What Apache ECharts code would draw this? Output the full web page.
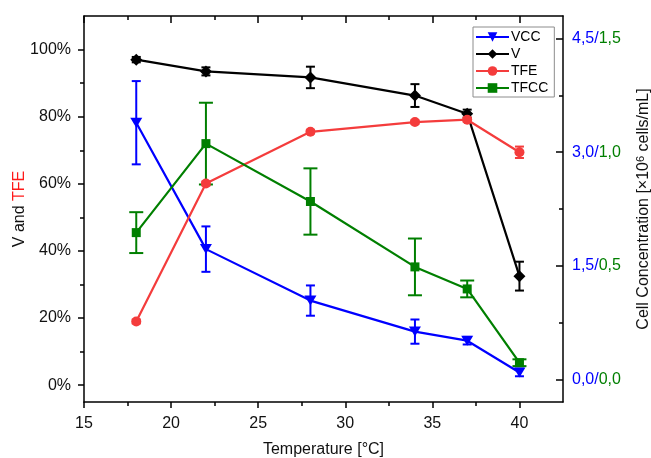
<!DOCTYPE html>
<html>
<head>
<meta charset="utf-8">
<script src="https://cdn.jsdelivr.net/npm/echarts@6/dist/echarts.min.js"></script>
<style>
  html, body { margin: 0; padding: 0; background: #fff; }
  #chart { width: 651px; height: 458px; }
</style>
</head>
<body>
<div id="chart"></div>
<script>
// Temperatures (°C)
const temps = [18, 22, 28, 34, 37, 40];

// V and TFE (%), left axis
const vValues   = [97.0, 93.5, 91.7, 86.3, 80.9, 32.5];
const vErrors   = [0.8, 1.2, 3.2, 3.4, 1.2, 4.3];
const tfeValues = [19.0, 60.1, 75.5, 78.4, 79.1, 69.4];
const tfeErrors = [0.6, 0.6, 0.5, 0.5, 0.6, 1.7];

// Cell concentrations (x10^6 cells/mL), right axis: VCC on 0–4.5, TFCC on 0–1.5
const vccValues  = [3.39, 1.72, 1.04, 0.63, 0.51, 0.09];
const vccErrors  = [0.55, 0.30, 0.20, 0.16, 0.05, 0.05];
const tfccValues = [0.646, 1.038, 0.783, 0.495, 0.398, 0.073];
const tfccErrors = [0.09, 0.18, 0.146, 0.125, 0.037, 0.015];

// Tick positions
const xMajorTicks = [15, 20, 25, 30, 35, 40];
const xMinorTicks = [17.5, 22.5, 27.5, 32.5, 37.5];
const leftMajorTicks = [0, 20, 40, 60, 80, 100];
const leftMinorTicks = [10, 30, 50, 70, 90];
const rightMajorTicks = [0, 1.5, 3, 4.5];
const rightMinorTicks = [0.75, 2.25, 3.75];

const FONT = 'Liberation Sans, Arial, sans-serif';
const C_VCC = '#0000ff', C_V = '#000000', C_TFE = '#f43c3c', C_TFCC = '#007f00';

const pairs = (vals) => temps.map((t, i) => [t, vals[i]]);
const ranges = (vals, errs) => temps.map((t, i) => [t, vals[i] - errs[i], vals[i] + errs[i]]);
const comma = (v) => v.toFixed(1).replace('.', ',');

function errorBars(color, capHalf) {
  return function (params, api) {
    const x = api.value(0);
    const lo = api.coord([x, api.value(1)]);
    const hi = api.coord([x, api.value(2)]);
    const st = { stroke: color, lineWidth: 2 };
    return {
      type: 'group',
      children: [
        { type: 'line', shape: { x1: lo[0], y1: lo[1], x2: hi[0], y2: hi[1] }, style: st },
        { type: 'line', shape: { x1: lo[0] - capHalf, y1: lo[1], x2: lo[0] + capHalf, y2: lo[1] }, style: st },
        { type: 'line', shape: { x1: hi[0] - capHalf, y1: hi[1], x2: hi[0] + capHalf, y2: hi[1] }, style: st }
      ]
    };
  };
}

const axisLine = { show: true, onZero: false, lineStyle: { color: '#000', width: 1.5 } };
const noLine = { show: false, onZero: false };
const tickStyle = { color: '#000', width: 1.5 };

const xBase = { type: 'value', min: 15, max: 42.5, splitLine: { show: false } };
const yLeftBase = { type: 'value', min: -5, max: 110, position: 'left', splitLine: { show: false } };
const yRightBase = { type: 'value', min: -0.3, max: 4.8, position: 'right', splitLine: { show: false } };

const chart = echarts.init(document.getElementById('chart'), null, { renderer: 'canvas' });

chart.setOption({
  animation: false,
  backgroundColor: '#fff',
  textStyle: { fontFamily: FONT },
  grid: { left: 84, right: 88, top: 16, bottom: 56, containLabel: false, outerBoundsMode: 'none' },
  legend: {
    orient: 'vertical',
    left: 473,
    top: 27,
    padding: [3, 6, 2, 2],
    itemWidth: 33,
    itemHeight: 12,
    itemGap: 3,
    borderColor: '#8c8c8c',
    borderWidth: 1,
    backgroundColor: '#fff',
    textStyle: { fontFamily: FONT, fontSize: 14, color: '#000', padding: [0, 0, 0, -3], lineHeight: 14 },
    data: ['VCC', 'V', 'TFE', 'TFCC']
  },
  xAxis: [
    Object.assign({}, xBase, {
      position: 'bottom',
      axisLine: axisLine,
      axisTick: { show: true, inside: false, length: 6, lineStyle: tickStyle, customValues: xMajorTicks },
      axisLabel: { show: true, margin: 13.5, fontSize: 16, color: '#111', fontFamily: FONT, customValues: xMajorTicks },
      name: 'Temperature [°C]',
      nameLocation: 'middle',
      nameGap: 40,
      nameMoveOverlap: false,
      nameTextStyle: { fontSize: 16, color: '#111', fontFamily: FONT }
    }),
    Object.assign({}, xBase, {
      position: 'bottom',
      axisLine: noLine,
      axisTick: { show: true, inside: false, length: 4, lineStyle: tickStyle, customValues: xMinorTicks },
      axisLabel: { show: false }
    }),
    Object.assign({}, xBase, {
      position: 'top',
      axisLine: axisLine,
      axisTick: { show: true, inside: true, length: 7, lineStyle: tickStyle, customValues: xMajorTicks },
      axisLabel: { show: false }
    }),
    Object.assign({}, xBase, {
      position: 'top',
      axisLine: noLine,
      axisTick: { show: true, inside: true, length: 4, lineStyle: tickStyle, customValues: xMinorTicks },
      axisLabel: { show: false }
    })
  ],
  yAxis: [
    Object.assign({}, yLeftBase, {
      axisLine: axisLine,
      axisTick: { show: true, inside: false, length: 6, lineStyle: tickStyle, customValues: leftMajorTicks },
      axisLabel: {
        show: true, margin: 13, fontSize: 16, color: '#111', fontFamily: FONT,
        customValues: leftMajorTicks,
        formatter: (v) => v + '%'
      },
      name: '{k|V and }{r|TFE}',
      nameLocation: 'middle',
      nameGap: 56,
      nameRotate: 90,
      nameMoveOverlap: false,
      nameTextStyle: {
        fontFamily: FONT,
        rich: {
          k: { fontSize: 16, color: '#111', fontFamily: FONT },
          r: { fontSize: 16, color: '#ff1a1a', fontFamily: FONT }
        }
      }
    }),
    Object.assign({}, yLeftBase, {
      axisLine: noLine,
      axisTick: { show: true, inside: false, length: 4, lineStyle: tickStyle, customValues: leftMinorTicks },
      axisLabel: { show: false }
    }),
    Object.assign({}, yRightBase, {
      axisLine: axisLine,
      axisTick: { show: true, inside: true, length: 7, lineStyle: tickStyle, customValues: rightMajorTicks },
      axisLabel: {
        show: true, margin: 9, fontFamily: FONT,
        customValues: rightMajorTicks,
        formatter: (v) => '{b|' + comma(v) + '/}{g|' + comma(v / 3) + '}',
        rich: {
          b: { fontSize: 16, color: C_VCC, fontFamily: FONT },
          g: { fontSize: 16, color: C_TFCC, fontFamily: FONT }
        }
      },
      name: '{a|Cell Concentration [×10}{s|6}{a| cells/mL]}',
      nameLocation: 'middle',
      nameGap: 72,
      nameRotate: 90,
      nameMoveOverlap: false,
      nameTextStyle: {
        fontFamily: FONT,
        rich: {
          a: { fontSize: 16, color: '#111', fontFamily: FONT, lineHeight: 18 },
          s: { fontSize: 11, color: '#111', fontFamily: FONT, verticalAlign: 'top', lineHeight: 18 }
        }
      }
    }),
    Object.assign({}, yRightBase, {
      axisLine: noLine,
      axisTick: { show: true, inside: true, length: 4, lineStyle: tickStyle, customValues: rightMinorTicks },
      axisLabel: { show: false }
    }),
    // TFCC scale (one third of the VCC scale), read through the right-hand labels
    { type: 'value', min: -0.1, max: 1.6, position: 'right', show: false, splitLine: { show: false } }
  ],
  series: [
    {
      type: 'custom', name: 'VCC err', xAxisIndex: 0, yAxisIndex: 2,
      renderItem: errorBars(C_VCC, 4.5), data: ranges(vccValues, vccErrors), z: 2
    },
    {
      name: 'VCC', type: 'line', xAxisIndex: 0, yAxisIndex: 2, data: pairs(vccValues),
      symbol: 'triangle', symbolRotate: 180, symbolSize: [12, 10],
      lineStyle: { color: C_VCC, width: 2.2 }, itemStyle: { color: C_VCC }, z: 2
    },
    {
      type: 'custom', name: 'V err', xAxisIndex: 0, yAxisIndex: 0,
      renderItem: errorBars(C_V, 4.5), data: ranges(vValues, vErrors), z: 2
    },
    {
      name: 'V', type: 'line', xAxisIndex: 0, yAxisIndex: 0, data: pairs(vValues),
      symbol: 'diamond', symbolSize: 12,
      lineStyle: { color: C_V, width: 2.2 }, itemStyle: { color: C_V }, z: 2
    },
    {
      type: 'custom', name: 'TFE err', xAxisIndex: 0, yAxisIndex: 0,
      renderItem: errorBars(C_TFE, 4.5), data: ranges(tfeValues, tfeErrors), z: 2
    },
    {
      name: 'TFE', type: 'line', xAxisIndex: 0, yAxisIndex: 0, data: pairs(tfeValues),
      symbol: 'circle', symbolSize: 10,
      lineStyle: { color: C_TFE, width: 2.2 }, itemStyle: { color: C_TFE }, z: 2
    },
    {
      type: 'custom', name: 'TFCC err', xAxisIndex: 0, yAxisIndex: 4,
      renderItem: errorBars(C_TFCC, 7), data: ranges(tfccValues, tfccErrors), z: 2
    },
    {
      name: 'TFCC', type: 'line', xAxisIndex: 0, yAxisIndex: 4, data: pairs(tfccValues),
      symbol: 'rect', symbolSize: 9,
      lineStyle: { color: C_TFCC, width: 2.2 }, itemStyle: { color: C_TFCC }, z: 2
    }
  ]
});
</script>
</body>
</html>
